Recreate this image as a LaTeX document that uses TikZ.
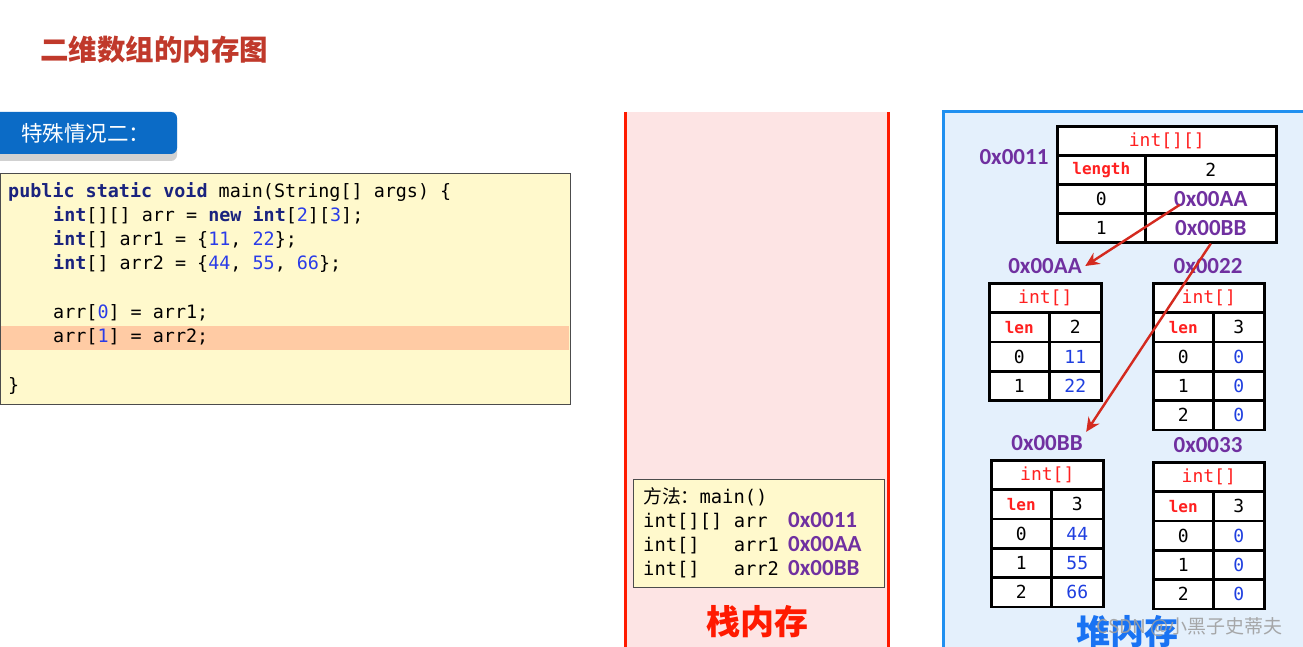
\documentclass[tikz,border=0pt]{standalone}
\usepackage{fontspec}
\setmonofont{DejaVu Sans Mono}
\newfontfamily\cjk{Noto Sans CJK SC}
\newfontfamily\addrsans{Carlito}
\usetikzlibrary{arrows.meta}

\definecolor{titlered}{HTML}{C0392B}
\definecolor{tagblue}{HTML}{0B6BC6}
\definecolor{codebg}{HTML}{FFF9CC}
\definecolor{markline}{HTML}{FFCBA4}
\definecolor{kwblue}{HTML}{1A237E}
\definecolor{numblue}{HTML}{2A3CE8}
\definecolor{stackpink}{HTML}{FDE4E4}
\definecolor{wallred}{HTML}{FF1A00}
\definecolor{heapbg}{HTML}{E4F0FC}
\definecolor{heapline}{HTML}{2090F0}
\definecolor{addrpurple}{HTML}{7030A0}
\definecolor{tabred}{HTML}{FF2020}
\definecolor{valblue}{HTML}{1F3FE0}
\definecolor{arrowred}{HTML}{D42A1F}

\newcommand{\codefont}{\ttfamily\fontsize{18.4}{22}\selectfont}
\newcommand{\kw}[1]{\textbf{\textcolor{kwblue}{#1}}}
\newcommand{\nm}[1]{\textcolor{numblue}{#1}}

\begin{document}
\begin{tikzpicture}[x=1pt, y=-1pt,
        codeline/.style={anchor=base west, inner sep=0pt, font=\codefont},
        cell/.style={draw=black, line width=2.6pt, fill=white, inner sep=0pt, anchor=north west, minimum height=29pt, font=\ttfamily\fontsize{18}{20}\selectfont},
        small/.style={cell, minimum height=29.3pt},
        addr/.style={text=addrpurple, font=\addrsans\bfseries\fontsize{23}{25}\selectfont},
        lenkey/.style={text=tabred, font=\ttfamily\bfseries\fontsize{16}{18}\selectfont},
        ptr/.style={draw=arrowred, line width=2.4pt, -{Stealth[length=14pt,width=13pt]}},
    ]
    \useasboundingbox (0,0) rectangle (1303,647);

    % Background areas
    \fill[stackpink] (625,112) rectangle (888,660);
    \draw[wallred, line width=3pt] (625,112) -- (625,660);
    \draw[wallred, line width=3pt] (888,112) -- (888,660);
    \draw[heapline, fill=heapbg, line width=3pt] (943,112) rectangle (1330,680);

    % Title and tag
    \node[anchor=west, inner sep=0pt, text=titlered, font=\cjk\bfseries\fontsize{28.5}{31}\selectfont] (title) at (40,50) {二维数组的内存图};
    \fill[black!18, rounded corners=6pt] (-6,117) rectangle (177,161);
    \fill[tagblue, rounded corners=6pt] (-6,112) rectangle (177,154);
    \node[anchor=west, inner sep=0pt, text=white, font=\cjk\fontsize{21.5}{24}\selectfont] (tag) at (21,133) {特殊情况二：};

    % Code
    \node[draw=black!70, line width=1.2pt, fill=codebg, anchor=north west, minimum width=570pt, minimum height=231pt, inner sep=0pt] (codeBox) at (0,173) {};
    \fill[markline] (1,326) rectangle (569,350);
    \node[codeline] (codeMain) at (8,197) {\kw{public static void} main(String[] args) \{};
    \node[codeline] (codeArr) at (53,221.25) {\kw{int}[][] arr = \kw{new} \kw{int}[\nm{2}][\nm{3}];};
    \node[codeline] (codeArrOne) at (53,245.5) {\kw{int}[] arr1 = \{\nm{11}, \nm{22}\};};
    \node[codeline] (codeArrTwo) at (53,269.75) {\kw{int}[] arr2 = \{\nm{44}, \nm{55}, \nm{66}\};};
    \node[codeline] (codeSetOne) at (53,318.25) {arr[\nm{0}] = arr1;};
    \node[codeline] (codeSetTwo) at (53,342.5) {arr[\nm{1}] = arr2;};
    \node[codeline] (codeEnd) at (8,391) {\}};

    % Stack frame
    \node[draw=black!70, line width=1.2pt, fill=codebg, anchor=north west, minimum width=251pt, minimum height=108pt, inner sep=0pt] (stkFrame) at (633,479) {};
    \node[codeline, font=\ttfamily\fontsize{18.8}{22}\selectfont] (stkMain) at (643,503) {{\cjk 方法：}main()};
    \node[codeline, font=\ttfamily\fontsize{18.8}{22}\selectfont] (stkArr) at (643,527) {int[][] arr};
    \node[codeline, font=\ttfamily\fontsize{18.8}{22}\selectfont] (stkArrOne) at (643,551) {int[]\ \ \ arr1};
    \node[codeline, font=\ttfamily\fontsize{18.8}{22}\selectfont] (stkArrTwo) at (643,575) {int[]\ \ \ arr2};
    \node[codeline, addr] (stkAddrArr) at (788,527) {0x0011};
    \node[codeline, addr] (stkAddrOne) at (788,551) {0x00AA};
    \node[codeline, addr] (stkAddrTwo) at (788,575) {0x00BB};
    \node[text=wallred, font=\cjk\bfseries\fontsize{34}{36}\selectfont] (stackName) at (757,622) {栈内存};

    % Heap: int[][]
    \node[addr] (lblTop) at (1014,157) {0x0011};
    \node[cell, minimum width=219pt, text=tabred] (bigHead) at (1056,125) {int[][]};
    \node[cell, minimum width=88pt, lenkey] (bigLenK) at (1056,154) {length};
    \node[cell, minimum width=131pt] (bigLenV) at (1144,154) {2};
    \node[cell, minimum width=88pt] (bigK0) at (1056,183) {0};
    \node[cell, minimum width=131pt, addr] (bigV0) at (1144,183) {0x00AA};
    \node[cell, minimum width=88pt] (bigK1) at (1056,212) {1};
    \node[cell, minimum width=131pt, addr] (bigV1) at (1144,212) {0x00BB};

    % Heap: 0x00AA
    \node[addr] (lblAA) at (1045,266) {0x00AA};
    \node[small, minimum width=112pt, text=tabred] (aaHead) at (988,282) {int[]};
    \node[small, minimum width=60pt, lenkey] (aaLenK) at (988,311.3) {len};
    \node[small, minimum width=52pt] (aaLenV) at (1048,311.3) {2};
    \node[small, minimum width=60pt] (aaK0) at (988,340.6) {0};
    \node[small, minimum width=52pt, text=valblue] (aaV0) at (1048,340.6) {11};
    \node[small, minimum width=60pt] (aaK1) at (988,369.9) {1};
    \node[small, minimum width=52pt, text=valblue] (aaV1) at (1048,369.9) {22};

    % Heap: 0x0022
    \node[addr] (lblTwoTwo) at (1208,266) {0x0022};
    \node[small, minimum width=111pt, text=tabred] (ttHead) at (1152,282) {int[]};
    \node[small, minimum width=60pt, lenkey] (ttLenK) at (1152,311.3) {len};
    \node[small, minimum width=51pt] (ttLenV) at (1212,311.3) {3};
    \node[small, minimum width=60pt] (ttK0) at (1152,340.6) {0};
    \node[small, minimum width=51pt, text=valblue] (ttV0) at (1212,340.6) {0};
    \node[small, minimum width=60pt] (ttK1) at (1152,369.9) {1};
    \node[small, minimum width=51pt, text=valblue] (ttV1) at (1212,369.9) {0};
    \node[small, minimum width=60pt] (ttK2) at (1152,399.2) {2};
    \node[small, minimum width=51pt, text=valblue] (ttV2) at (1212,399.2) {0};

    % Heap: 0x00BB
    \node[addr] (lblBB) at (1047,443) {0x00BB};
    \node[small, minimum width=112pt, text=tabred] (bbHead) at (990,459) {int[]};
    \node[small, minimum width=60pt, lenkey] (bbLenK) at (990,488.3) {len};
    \node[small, minimum width=52pt] (bbLenV) at (1050,488.3) {3};
    \node[small, minimum width=60pt] (bbK0) at (990,517.6) {0};
    \node[small, minimum width=52pt, text=valblue] (bbV0) at (1050,517.6) {44};
    \node[small, minimum width=60pt] (bbK1) at (990,546.9) {1};
    \node[small, minimum width=52pt, text=valblue] (bbV1) at (1050,546.9) {55};
    \node[small, minimum width=60pt] (bbK2) at (990,576.2) {2};
    \node[small, minimum width=52pt, text=valblue] (bbV2) at (1050,576.2) {66};

    % Heap: 0x0033
    \node[addr] (lblThreeThree) at (1208,445) {0x0033};
    \node[small, minimum width=111pt, text=tabred] (thHead) at (1152,461) {int[]};
    \node[small, minimum width=60pt, lenkey] (thLenK) at (1152,490.3) {len};
    \node[small, minimum width=51pt] (thLenV) at (1212,490.3) {3};
    \node[small, minimum width=60pt] (thK0) at (1152,519.6) {0};
    \node[small, minimum width=51pt, text=valblue] (thV0) at (1212,519.6) {0};
    \node[small, minimum width=60pt] (thK1) at (1152,548.9) {1};
    \node[small, minimum width=51pt, text=valblue] (thV1) at (1212,548.9) {0};
    \node[small, minimum width=60pt] (thK2) at (1152,578.2) {2};
    \node[small, minimum width=51pt, text=valblue] (thV2) at (1212,578.2) {0};

    \node[text=heapline!80!blue, font=\cjk\bfseries\fontsize{34}{36}\selectfont] (heapName) at (1127,632) {堆内存};
    \node[anchor=west, text=gray!75, opacity=0.9, font=\cjk\fontsize{19}{21}\selectfont] (mark) at (1093,627) {CSDN @小黑子史蒂夫};

    % Lines
    \draw[ptr] ([shift={(-31,6)}]bigV0.center) -- (lblAA.east);
    \draw[ptr] (bigV1.south) -- (lblBB.north east);

\end{tikzpicture}
\end{document}
